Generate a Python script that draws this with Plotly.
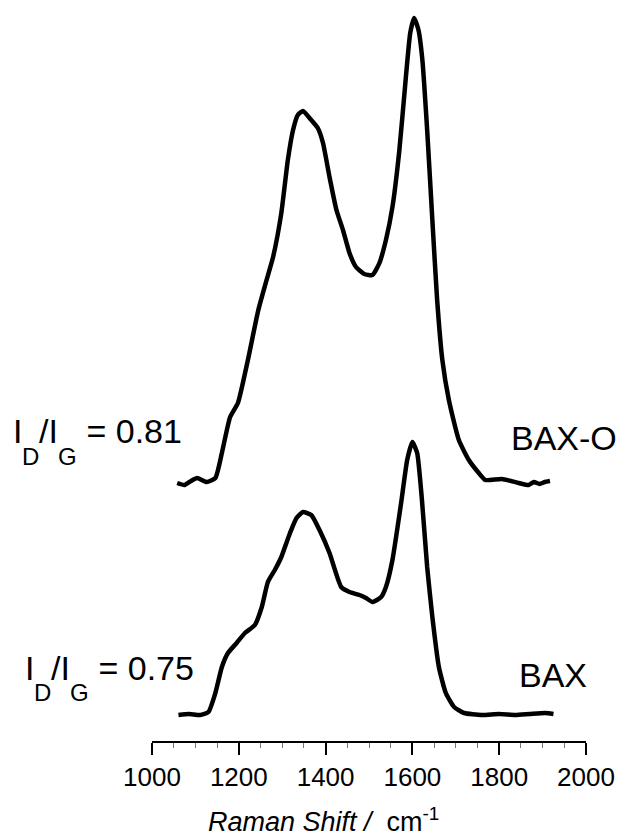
import plotly.graph_objects as go

# Raman shift (cm^-1) and intensity (a.u.)
bax_o_shift = [1058, 1075, 1090, 1104, 1126, 1146, 1161, 1180, 1198, 1221, 1245, 1264, 1279, 1298,
               1313, 1325, 1336, 1348, 1363, 1382, 1394, 1409, 1425, 1440, 1455, 1470, 1489, 1508,
               1524, 1539, 1554, 1570, 1585, 1595, 1604, 1614, 1623, 1634, 1646, 1657, 1669, 1684,
               1707, 1730, 1753, 1768, 1806, 1845, 1868, 1880, 1893, 1905, 1917]
bax_o_int = [0, -2, 2, 5, 1, 5, 30, 66, 80, 123, 173, 203, 226, 270,
             323, 353, 368, 372, 365, 355, 340, 306, 273, 253, 230, 216, 209, 208,
             220, 243, 276, 333, 406, 450, 465, 453, 423, 353, 263, 183, 123, 83,
             43, 23, 10, 3, 4, 0, -2, 1, -1, 1, 2]

bax_shift = [1061, 1085, 1111, 1130, 1146, 1161, 1175, 1195, 1214, 1237, 1253, 1267, 1283, 1298,
             1318, 1333, 1348, 1367, 1386, 1409, 1436, 1455, 1478, 1493, 1508, 1528, 1539, 1554,
             1574, 1588, 1600, 1611, 1622, 1634, 1646, 1661, 1677, 1696, 1719, 1760, 1800, 1837,
             1870, 1906, 1925]
bax_int = [0, 1, 0, 3, 22, 48, 62, 72, 82, 90, 108, 133, 145, 158,
           182, 197, 203, 200, 185, 162, 128, 123, 120, 117, 113, 118, 128, 155,
           212, 255, 273, 262, 215, 148, 98, 48, 22, 8, 2, 0, 1, 0,
           1, 2, 1]

bax_o_offset = 232
labels = ["BAX-O", "BAX"]
ratios = ["0.81", "0.75"]

FONT = "Liberation Sans, Arial, sans-serif"
MAIN = 34
SUB = 24
# Arial advance widths (em) used only to lay out the ratio label pieces
ADV = {"I": .278, "/": .278, " ": .278, "=": .584, "0": .556, ".": .278, "1": .556,
       "5": .556, "7": .556, "8": .556, "D": .722, "G": .778}

PL_LEFT, PL_W = 152, 436


def text_w(s, size):
    return sum(ADV.get(c, .556) for c in s) * size


fig = go.Figure()
fig.add_trace(go.Scatter(x=bax_o_shift, y=[v + bax_o_offset for v in bax_o_int], mode="lines",
                         line=dict(color="black", width=4.5, shape="spline", smoothing=0.5),
                         name=labels[0], showlegend=False))
fig.add_trace(go.Scatter(x=bax_shift, y=bax_int, mode="lines",
                         line=dict(color="black", width=4.5, shape="spline", smoothing=0.5),
                         name=labels[1], showlegend=False))

# sample labels
fig.add_annotation(x=1822, y=277, xref="x", yref="y", text=labels[0], showarrow=False,
                   xanchor="left", yanchor="middle", font=dict(family=FONT, size=MAIN, color="black"))
fig.add_annotation(x=1841, y=40, xref="x", yref="y", text=labels[1], showarrow=False,
                   xanchor="left", yanchor="middle", font=dict(family=FONT, size=MAIN, color="black"))


def ratio_label(x0_px, y_main, y_sub, value):
    pieces = [("I", MAIN, y_main), ("D", SUB, y_sub), ("/I", MAIN, y_main),
              ("G", SUB, y_sub), (" = " + value, MAIN, y_main)]
    x = x0_px
    for txt, size, yy in pieces:
        fig.add_annotation(x=(x - PL_LEFT) / PL_W, y=yy, xref="paper", yref="y",
                           text=txt.replace(" ", "&nbsp;"), showarrow=False,
                           xanchor="left", yanchor="middle", borderpad=0,
                           font=dict(family=FONT, size=size, color="black"))
        x += text_w(txt, size)


ratio_label(11, 284, 259, ratios[0])
ratio_label(23, 47, 23, ratios[1])

# axis title
fig.add_annotation(x=0.395, y=-0.108, xref="paper", yref="paper",
                   text="<i>Raman Shift / </i>&nbsp;cm<sup>-1</sup>", showarrow=False,
                   xanchor="center", yanchor="middle", font=dict(family=FONT, size=27, color="black"))

fig.update_layout(
    width=625, height=839,
    margin=dict(l=PL_LEFT, r=37, t=10, b=98),
    paper_bgcolor="white", plot_bgcolor="white",
    xaxis=dict(range=[1000, 2000], tick0=1000, dtick=200, showgrid=False, zeroline=False,
               showline=True, linecolor="black", linewidth=2,
               ticks="outside", ticklen=12, tickwidth=1.5, tickcolor="black",
               tickfont=dict(family=FONT, size=26, color="black"),
               minor=dict(dtick=50, ticks="outside", ticklen=5, tickwidth=1, tickcolor="#777", showgrid=False)),
    yaxis=dict(range=[-26, 705], visible=False),
)

fig.write_html("out.html")
